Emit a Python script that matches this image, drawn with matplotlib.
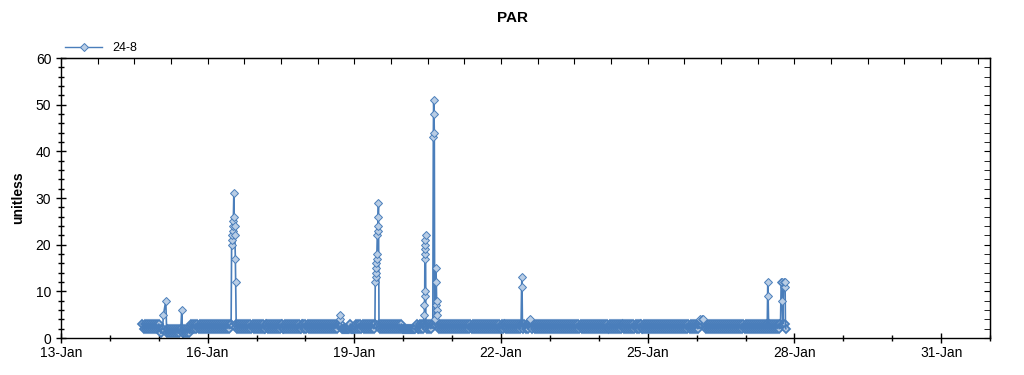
import pandas as pd
import numpy as np
import matplotlib
matplotlib.use("Agg")
import matplotlib.pyplot as plt
import matplotlib.dates as mdates

plt.rcParams['font.family'] = ['Liberation Sans', 'DejaVu Sans']

# half-hourly baseline readings, one string per day (first day starts 16:00)
baseline_start = "2015-01-14 16:00"
baseline_days = [
    "32323232 32323232",                                     # 14-Jan 16h-24h
    "32121212 12121212 12121212 12121212 32323232 32323232",  # 15-Jan
    "32323232 32323232 32323232 32323232 32323232 32323232",  # 16-Jan
    "32323232 23323232 32323232 33223232 32323232 32322332",  # 17-Jan
    "32323232 32323232 32323232 32323232 32322222 22223222",  # 18-Jan
    "22323232 32323232 32323232 32323232 32323232 32323232",  # 19-Jan
    "22222222 22222322 32323232 32323232 32323232 32323232",  # 20-Jan
    "32323232 32323232 32323232 32323232 32323232 32323232",  # 21-Jan
    "23233232 32323232 32322323 23232323 32323232 32323232",  # 22-Jan
    "32323232 32323232 32323232 32323232 32323232 32323232",  # 23-Jan
    "32323232 32232323 23232323 32323232 32323232 33223232",  # 24-Jan
    "32323232 32323232 32323232 32323232 32323232 32323232",  # 25-Jan
    "32323232 32323232 32323232 32323232 32323232 32323232",  # 26-Jan
    "32323232 32323232 32323232 32323232 32323232",           # 27-Jan 0h-20h
]

# spikes: day, clock times, values
spike_days = ["2015-01-15", "2015-01-15", "2015-01-16", "2015-01-18",
              "2015-01-19", "2015-01-20", "2015-01-20", "2015-01-22",
              "2015-01-22", "2015-01-26", "2015-01-27", "2015-01-27"]
spike_clock = [
    ["01:50", "02:18", "03:26", "03:50"],
    ["10:50", "11:15", "11:40"],
    ["11:30", "11:45", "11:55", "12:05", "12:15", "12:25", "12:35", "12:50",
     "13:00", "13:10", "13:20", "13:35", "13:45", "14:00"],
    ["16:30", "16:50", "17:10", "17:30"],
    ["10:05", "10:15", "10:23", "10:31", "10:39", "10:47", "10:55", "11:03",
     "11:15", "11:25", "11:33", "11:41", "11:50", "12:05"],
    ["10:10", "10:20", "10:24", "10:28", "10:32", "10:36", "10:40", "10:44",
     "10:48", "10:52", "10:56", "11:05"],
    ["14:30", "14:45", "14:55", "15:05", "15:15", "15:25", "15:40", "15:55",
     "16:05", "16:12", "16:20", "16:28", "16:36", "16:50"],
    ["09:50", "10:05", "10:15", "10:30"],
    ["13:50", "14:10", "14:30"],
    ["01:20", "01:40", "02:10", "02:40", "03:10", "03:30"],
    ["10:40", "10:55", "11:05", "11:20"],
    ["17:10", "17:30", "17:45", "18:00", "18:15", "18:40", "19:00", "19:15",
     "19:25", "19:35", "19:45"],
]
spike_vals = [
    [2, 5, 8, 2],
    [2, 6, 1],
    [3, 20, 21, 22, 23, 24, 25, 31, 26, 24, 22, 17, 12, 3],
    [3, 4, 5, 3],
    [3, 12, 13, 14, 15, 16, 17, 18, 22, 23, 24, 26, 29, 3],
    [3, 5, 7, 9, 10, 17, 18, 19, 20, 21, 22, 3],
    [3, 43, 51, 48, 44, 4, 3, 7, 15, 12, 8, 6, 5, 3],
    [3, 11, 13, 3],
    [3, 4, 3],
    [3, 4, 3, 4, 4, 3],
    [3, 12, 9, 3],
    [3, 12, 12, 8, 3, 11, 12, 11, 12, 3, 2],
]

# build series
base_vals = [int(c) for s in baseline_days for c in s.replace(" ", "")]
base = pd.Series(base_vals, index=pd.date_range(baseline_start, periods=len(base_vals), freq="30min"))
parts = []
for day, clocks, vals in zip(spike_days, spike_clock, spike_vals):
    idx = pd.to_datetime([day + " " + c for c in clocks])
    base = base[(base.index < idx[0]) | (base.index > idx[-1])]
    parts.append(pd.Series(vals, index=idx))
s = pd.concat([base] + parts).sort_index()

line_c = "#4a7ebb"
face_c = "#b9cde5"

fig = plt.figure(figsize=(10.24, 3.75), dpi=100)
ax = fig.add_axes([61 / 1024, 1 - 338 / 375, (990 - 61) / 1024, 280 / 375])

# dense low markers with heavy edges, line on top, spike markers above
low = s[s < 4]
high = s[s >= 4]
ax.plot(low.index, low.values, ls="none", marker="D", ms=4.5, mfc=face_c,
        mec=line_c, mew=1.3, zorder=2)
ax.plot(s.index, s.values, color=line_c, lw=1.2, zorder=3)
ax.plot(high.index, high.values, ls="none", marker="D", ms=4.5, mfc=face_c,
        mec=line_c, mew=0.7, zorder=4)
ax.plot([], [], color=line_c, lw=1, marker="D", ms=4.5, mfc=face_c,
        mec=line_c, mew=0.7, label="24-8")

ax.set_xlim(pd.Timestamp("2015-01-13"), pd.Timestamp("2015-02-01"))
ax.set_ylim(0, 60)
ax.set_xticks(pd.date_range("2015-01-13", "2015-01-31", freq="3D"))
ax.xaxis.set_minor_locator(mdates.DayLocator())
ax.xaxis.set_major_formatter(mdates.DateFormatter("%d-%b"))
ax.set_yticks(np.arange(0, 61, 10))
ax.set_yticks(np.arange(0, 61, 2), minor=True)
ax.tick_params(which="major", direction="inout", length=7, width=1, labelsize=10, colors="black")
ax.tick_params(which="minor", direction="inout", length=4.5, width=1)
ax.tick_params(axis="x", pad=2)
for sp in ax.spines.values():
    sp.set_linewidth(1)

# right and top tick marks
sec_y = ax.secondary_yaxis("right")
sec_y.set_yticks(np.arange(0, 61, 10))
sec_y.set_yticks(np.arange(0, 61, 2), minor=True)
sec_y.tick_params(which="both", direction="in", labelright=False, length=4)
sec_x = ax.secondary_xaxis("top")
sec_x.set_xticks(mdates.date2num(pd.date_range("2015-01-13", "2015-02-01", freq="18h")))
sec_x.tick_params(direction="in", labeltop=False, length=4)

ax.legend(loc="lower left", bbox_to_anchor=(0.0, 1.0), frameon=False, fontsize=9,
          handlelength=3, borderaxespad=0.1, borderpad=0.2)

fig.text(0.5, 1 - 18 / 375, "PAR", ha="center", va="center", fontsize=11, fontweight="bold")
fig.text(18 / 1024, 1 - 198 / 375, "unitless", ha="center", va="center", rotation=90,
         fontsize=10, fontweight="bold")

fig.savefig("out.png", dpi=100)
